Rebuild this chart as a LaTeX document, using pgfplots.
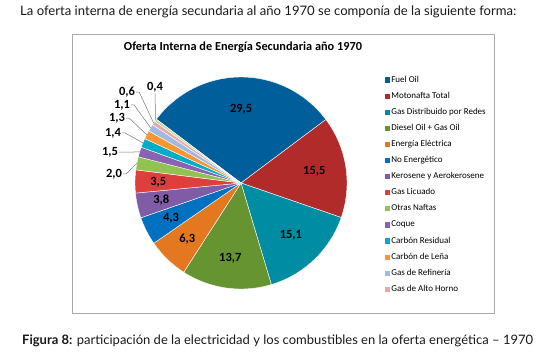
\documentclass[border=0pt]{standalone}
\usepackage{pgfplots}
\usepackage{pgfplotstable}
\pgfplotsset{compat=1.18}
\usepackage{fontspec}
\setmainfont{Lato}
\newfontfamily\calibri{Carlito}
\definecolor{cA}{RGB}{0,95,155}
\definecolor{cB}{RGB}{178,43,43}
\definecolor{cC}{RGB}{0,140,163}
\definecolor{cD}{RGB}{101,148,49}
\definecolor{cE}{RGB}{228,120,33}
\definecolor{cF}{RGB}{0,112,192}
\definecolor{cG}{RGB}{128,92,166}
\definecolor{cH}{RGB}{222,63,60}
\definecolor{cI}{RGB}{146,194,80}
\definecolor{cJ}{RGB}{137,99,178}
\definecolor{cK}{RGB}{0,173,200}
\definecolor{cL}{RGB}{250,150,50}
\definecolor{cM}{RGB}{160,187,225}
\definecolor{cN}{RGB}{232,168,166}
\definecolor{cO}{RGB}{200,220,160}
\definecolor{frame}{RGB}{170,170,170}
\definecolor{leadc}{RGB}{120,120,120}
\pgfplotstableread[col sep=semicolon]{
val;col;r;lx;ly;side;leg;lab;name
29.5;cA;0.70;0;0;0;1;29,5;Fuel Oil
15.5;cB;0.70;0;0;0;1;15,5;Motonafta Total
15.1;cC;0.68;0;0;0;1;15,1;Gas Distribuido por Redes
13.7;cD;0.72;0;0;0;1;13,7;Diesel Oil + Gas Oil
6.3;cE;0.73;0;0;0;1;6,3;Energía Eléctrica
4.3;cF;0.74;0;0;0;1;4,3;No Energético
3.8;cG;0.77;0;0;0;1;3,8;Kerosene y Aerokerosene
3.5;cH;0.78;0;0;0;1;3,5;Gas Licuado
2.0;cI;0;-1.198;0.085;1;1;2,0;Otras Naftas
1.5;cJ;0;-1.236;0.292;1;1;1,5;Coque
1.4;cK;0;-1.208;0.472;1;1;1,4;Carbón Residual
1.3;cL;0;-1.170;0.613;1;1;1,3;Carbón de Leña
1.1;cM;0;-1.123;0.736;1;1;1,1;Gas de Refinería
0.6;cN;0;-1.075;0.858;1;1;0,6;Gas de Alto Horno
0.4;cO;0;-0.811;0.906;2;0;0,4;otro
}\piedata
\tikzset{
  lbl/.style={font=\calibri\bfseries\fontsize{12.5}{13}\selectfont, inner sep=1pt},
  leader/.style={draw=leadc, line width=0.5pt}
}
\begin{document}
\begin{tikzpicture}[x=1pt,y=1pt]
\path[use as bounding box] (0,0) rectangle (538,-353);
\node[anchor=base west, inner sep=0, font=\fontsize{13.1}{15}\selectfont, text=black!90] at (20,-16) {La oferta interna de energía secundaria al año 1970 se componía de la siguiente forma:};
\draw[frame, line width=0.8pt] (72,-34) rectangle (494,-313);
\node[anchor=base, inner sep=0, font=\calibri\bfseries\fontsize{12.3}{14}\selectfont] at (243,-51) {Oferta Interna de Energía Secundaria año 1970};
\begin{axis}[at={(241pt,-183pt)}, anchor=center, x=106pt, y=106pt,
  xmin=-1, xmax=1, ymin=-1, ymax=1, hide axis, clip=false,
  legend cell align=left,
  legend style={at={(axis cs:1.358,1.02)}, anchor=north west, draw=none, fill=none,
    inner sep=0pt, row sep=6.1pt, font=\calibri\fontsize{9}{9.5}\selectfont,
    nodes={inner sep=1pt, text height=6pt, text depth=2pt}},
  legend image code/.code={\path[#1,draw=none] (0pt,-2.6pt) rectangle (5.2pt,2.6pt);}
]
\xdef\angcur{143}
\pgfplotsforeachungrouped \ii in {0,...,14}{%
  \pgfplotstablegetelem{\ii}{val}\of\piedata \let\sval\pgfplotsretval
  \pgfplotstablegetelem{\ii}{col}\of\piedata \let\scol\pgfplotsretval
  \pgfplotstablegetelem{\ii}{leg}\of\piedata \let\slg\pgfplotsretval
  \pgfplotstablegetelem{\ii}{name}\of\piedata \let\snm\pgfplotsretval
  \pgfmathsetmacro\aend{\angcur-3.6*\sval}%
  \ifnum\slg=1
    \edef\cmd{\noexpand\addplot[fill=\scol,draw=white,line width=0.4pt,domain=\aend:\angcur,samples=60] ({cos(x)},{sin(x)}) -- (axis cs:0,0) -- cycle; \noexpand\addlegendentry{\snm}}%
  \else
    \edef\cmd{\noexpand\addplot[forget plot,fill=\scol,draw=white,line width=0.4pt,domain=\aend:\angcur,samples=20] ({cos(x)},{sin(x)}) -- (axis cs:0,0) -- cycle;}%
  \fi
  \cmd
  \xdef\angcur{\aend}%
}
\xdef\angcur{143}
\pgfplotsforeachungrouped \ii in {0,...,14}{%
  \pgfplotstablegetelem{\ii}{val}\of\piedata \let\sval\pgfplotsretval
  \pgfplotstablegetelem{\ii}{r}\of\piedata \let\sr\pgfplotsretval
  \pgfplotstablegetelem{\ii}{lx}\of\piedata \let\slx\pgfplotsretval
  \pgfplotstablegetelem{\ii}{ly}\of\piedata \let\sly\pgfplotsretval
  \pgfplotstablegetelem{\ii}{side}\of\piedata \let\sside\pgfplotsretval
  \pgfplotstablegetelem{\ii}{lab}\of\piedata \let\slab\pgfplotsretval
  \pgfmathsetmacro\aend{\angcur-3.6*\sval}%
  \pgfmathsetmacro\amid{\angcur-1.8*\sval}%
  \pgfmathsetmacro\cx{cos(\amid)}%
  \pgfmathsetmacro\cy{sin(\amid)}%
  \ifnum\sside=0
    \pgfmathsetmacro\px{\sr*\cx}%
    \pgfmathsetmacro\py{\sr*\cy}%
    \edef\cmd{\noexpand\node[lbl] at (axis cs:\px,\py) {\slab};}%
  \else\ifnum\sside=1
    \edef\cmd{\noexpand\node[lbl] (L\ii) at (axis cs:\slx,\sly) {\slab}; \noexpand\draw[leader] (L\ii.east) -- ++(3pt,0pt) -- (axis cs:\cx,\cy);}%
  \else
    \edef\cmd{\noexpand\node[lbl] (L\ii) at (axis cs:\slx,\sly) {\slab}; \noexpand\draw[leader] (L\ii.south) -- (axis cs:\cx,\cy);}%
  \fi\fi
  \cmd
  \xdef\angcur{\aend}%
}
\end{axis}
\node[anchor=base west, inner sep=0, font=\fontsize{13}{15}\selectfont, text=black!90] at (22,-344) {\textbf{Figura 8:} participación de la electricidad y los combustibles en la oferta energética – 1970};
\end{tikzpicture}
\end{document}
